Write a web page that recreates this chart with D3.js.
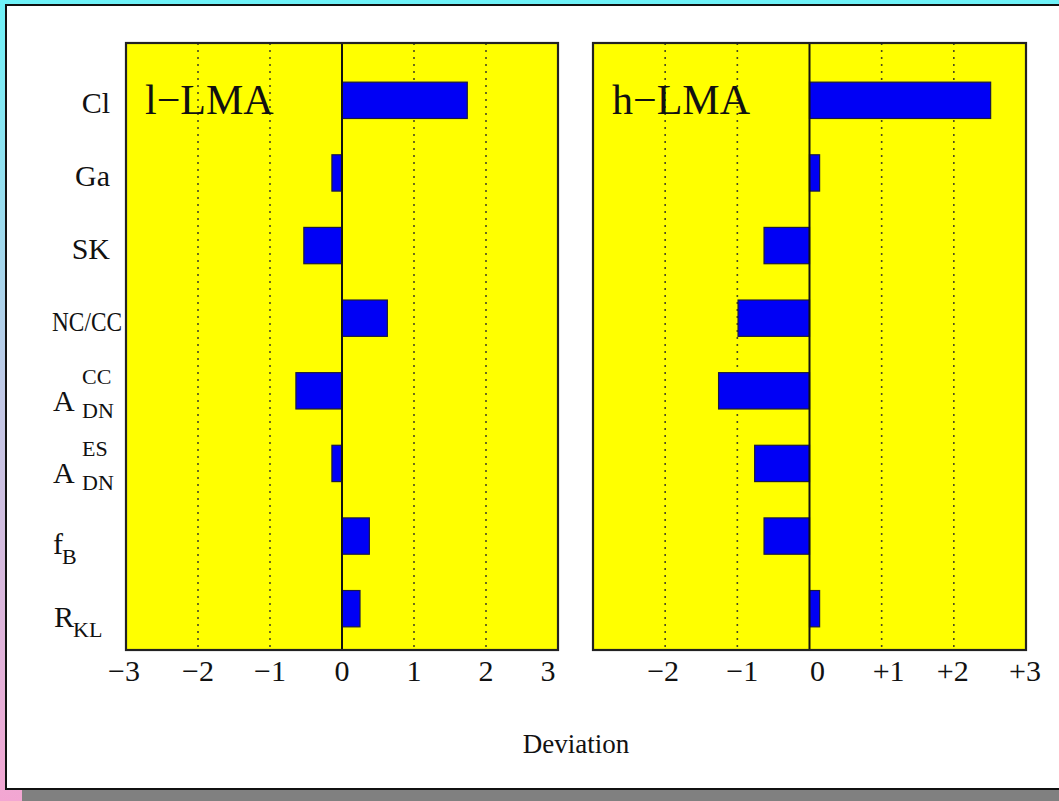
<!DOCTYPE html>
<html>
<head>
<meta charset="utf-8">
<script src="https://cdn.jsdelivr.net/npm/d3@7"></script>
<style>
  html, body { margin: 0; padding: 0; }
  body { width: 1059px; height: 801px; overflow: hidden; }
  svg { display: block; }
  text { font-family: "Liberation Serif", "DejaVu Serif", serif; fill: #111; }
</style>
</head>
<body>
<svg id="chart" width="1059" height="801"></svg>
<script>
// Observables, top to bottom
const categories = ["Cl", "Ga", "SK", "NC/CC", "ADN_CC", "ADN_ES", "fB", "RKL"];
// Label pieces: main text, subscript, superscript
const labelMain = ["Cl", "Ga", "SK", "NC/CC", "A", "A", "f", "R"];
const labelSub  = ["", "", "", "", "DN", "DN", "B", "KL"];
const labelSup  = ["", "", "", "", "CC", "ES", "", ""];

// Deviations for the two solutions
const lowLMA  = [1.74, -0.14, -0.53, 0.63, -0.64, -0.14, 0.38, 0.25];
const highLMA = [2.51, 0.14, -0.63, -0.99, -1.26, -0.76, -0.63, 0.14];

const panelTitles = ["l\u2212LMA", "h\u2212LMA"];
const leftTicks = [-3, -2, -1, 0, 1, 2, 3];
const leftTickLabels = ["\u22123", "\u22122", "\u22121", "0", "1", "2", "3"];
const rightTicks = [-2, -1, 0, 1, 2, 3];
const rightTickLabels = ["\u22122", "\u22121", "0", "+1", "+2", "+3"];
const gridValues = [-2, -1, 1, 2];
const xLabel = "Deviation";

const svg = d3.select("#chart");

// page backdrop
const defs = svg.append("defs");
const grad = defs.append("linearGradient").attr("id", "bg").attr("x1", 0).attr("y1", 0).attr("x2", 0).attr("y2", 1);
grad.append("stop").attr("offset", "0%").attr("stop-color", "#6ef2f8");
grad.append("stop").attr("offset", "50%").attr("stop-color", "#c2c8e6");
grad.append("stop").attr("offset", "100%").attr("stop-color", "#f3a6d2");
svg.append("rect").attr("width", 1059).attr("height", 801).attr("fill", "url(#bg)");
svg.append("rect").attr("x", 22).attr("y", 790).attr("width", 1040).attr("height", 12).attr("fill", "#808080");
svg.append("rect").attr("x", 6).attr("y", 5).attr("width", 1060).attr("height", 784)
  .attr("fill", "#ffffff").attr("stroke", "#111").attr("stroke-width", 2);

const plotTop = 43, plotBottom = 650;
const y = d3.scaleBand().domain(categories).range([64, 645]).paddingInner(0.5).paddingOuter(0.25);

const panels = [
  { x0: 126, x1: 558, data: lowLMA, ticks: leftTicks, labels: leftTickLabels, title: panelTitles[0], labelShift: [ -2, 0, 0, 0, 0, 0, -10 ] },
  { x0: 593, x1: 1026, data: highLMA, ticks: rightTicks, labels: rightTickLabels, title: panelTitles[1], labelShift: [ -2, 5, 8, 7, -1, -1 ] }
];

panels.forEach(p => {
  const x = d3.scaleLinear().domain([-3, 3]).range([p.x0, p.x1]);
  const g = svg.append("g");

  g.append("rect").attr("x", p.x0).attr("y", plotTop).attr("width", p.x1 - p.x0).attr("height", plotBottom - plotTop)
    .attr("fill", "#ffff00");

  // dotted grid lines
  g.selectAll("line.grid").data(gridValues).join("line")
    .attr("x1", d => x(d)).attr("x2", d => x(d)).attr("y1", plotTop).attr("y2", plotBottom)
    .attr("stroke", "#4a4a20").attr("stroke-width", 1.6).attr("stroke-dasharray", "2,5");

  // bars
  g.selectAll("rect.bar").data(p.data).join("rect")
    .attr("x", d => Math.min(x(0), x(d)))
    .attr("y", (d, i) => y(categories[i]))
    .attr("width", d => Math.abs(x(d) - x(0)))
    .attr("height", y.bandwidth())
    .attr("fill", "#0000f5").attr("stroke", "#1a1a40").attr("stroke-width", 1.2);

  // zero line
  g.append("line").attr("x1", x(0)).attr("x2", x(0)).attr("y1", plotTop).attr("y2", plotBottom)
    .attr("stroke", "#111").attr("stroke-width", 2);

  // frame
  g.append("rect").attr("x", p.x0).attr("y", plotTop).attr("width", p.x1 - p.x0).attr("height", plotBottom - plotTop)
    .attr("fill", "none").attr("stroke", "#222").attr("stroke-width", 2.2);

  // tick labels
  g.selectAll("text.tick").data(p.ticks).join("text")
    .attr("x", (d, i) => x(d) + p.labelShift[i]).attr("y", 681)
    .attr("text-anchor", "middle").attr("font-size", 30)
    .text((d, i) => p.labels[i]);

  // panel title
  g.append("text").attr("x", p.x0 + 19).attr("y", 114).attr("font-size", 42).text(p.title);
});

// category labels
const rowLabels = svg.append("g");
const subSize = 22;
categories.forEach((c, i) => {
  const cy = y(c) + y.bandwidth() / 2;
  const hasSub = labelSub[i] !== "";
  const t = rowLabels.append("text").attr("font-size", 30);
  if (!hasSub) {
    const wide = labelMain[i] === "NC/CC";
    t.attr("x", wide ? 52 : 110).attr("y", cy + 13)
      .attr("text-anchor", wide ? "start" : "end")
      .attr("font-size", wide ? 28 : 30)
      .text(labelMain[i]);
    if (wide) t.attr("textLength", 70).attr("lengthAdjust", "spacingAndGlyphs");
  } else if (labelSup[i] !== "") {
    t.attr("x", 53).attr("y", cy + 20).text(labelMain[i]);
    rowLabels.append("text").attr("x", 82).attr("y", cy - 7).attr("font-size", subSize).text(labelSup[i]);
    rowLabels.append("text").attr("x", 82).attr("y", cy + 27).attr("font-size", subSize).text(labelSub[i]);
  } else {
    const mx = labelMain[i] === "f" ? 53 : 54;
    t.attr("x", mx).attr("y", cy + 18).text(labelMain[i]);
    const w = t.node().getComputedTextLength();
    rowLabels.append("text").attr("x", mx + w - 1).attr("y", cy + 28).attr("font-size", subSize).text(labelSub[i]);
  }
});

// axis title
svg.append("text").attr("x", 576).attr("y", 753).attr("text-anchor", "middle").attr("font-size", 27).text(xLabel);
</script>
</body>
</html>
